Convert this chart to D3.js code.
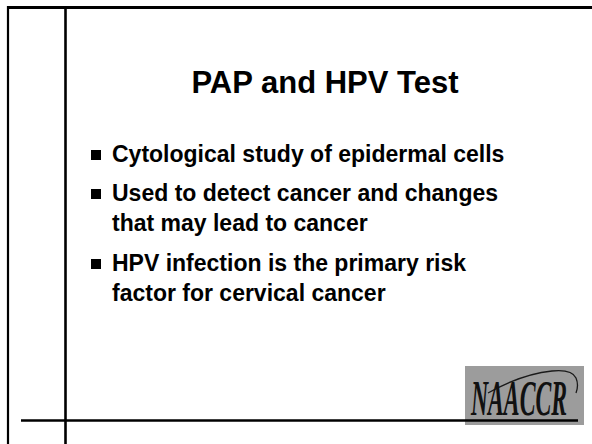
<!DOCTYPE html>
<html lang="en">
<head>
<meta charset="utf-8">
<title>PAP and HPV Test</title>
<script src="https://d3js.org/d3.v7.min.js"></script>
<style>
body { margin: 0; background: #fff; }
</style>
</head>
<body>
<script>
// slide content
const title = "PAP and HPV Test";
const bullets = [
    ["Cytological study of epidermal cells"],
    ["Used to detect cancer and changes", "that may lead to cancer"],
    ["HPV infection is the primary risk", "factor for cervical cancer"]
];
const bulletBaselines = [162, 201, 271];
const logoText = "NAACCR";

const width = 592, height = 444;
const lineGap = 30;

const svg = d3.select("body").append("svg")
    .attr("width", width)
    .attr("height", height);

// logo box goes under the frame line
const logo = svg.append("g");
logo.append("rect")
    .attr("x", 465).attr("y", 366)
    .attr("width", 119).attr("height", 59)
    .attr("fill", "#9c9c9c");
logo.append("path")
    .attr("d", "M488,393 Q522,374 552,371 Q572,369 576,378 Q579,385 576,393")
    .attr("fill", "none")
    .attr("stroke", "#1a1a1a")
    .attr("stroke-width", 1.3);
logo.append("text")
    .attr("x", 471).attr("y", 415)
    .attr("font-family", "Liberation Serif, serif")
    .attr("font-style", "italic")
    .attr("font-weight", "bold")
    .attr("font-size", 50)
    .attr("textLength", 96)
    .attr("lengthAdjust", "spacingAndGlyphs")
    .attr("fill", "#111")
    .text(logoText);

// frame lines
svg.append("line").attr("x1", 7).attr("y1", 7.5).attr("x2", width).attr("y2", 7.5)
    .attr("stroke", "#000").attr("stroke-width", 3);
svg.append("line").attr("x1", 8).attr("y1", 6).attr("x2", 8).attr("y2", height)
    .attr("stroke", "#000").attr("stroke-width", 2.2);
svg.append("line").attr("x1", 65.5).attr("y1", 6).attr("x2", 65.5).attr("y2", height)
    .attr("stroke", "#000").attr("stroke-width", 2.6);
svg.append("line").attr("x1", 21).attr("y1", 420.5).attr("x2", 578).attr("y2", 420.5)
    .attr("stroke", "#000").attr("stroke-width", 2.6);

// title
svg.append("text")
    .attr("x", 325).attr("y", 93)
    .attr("text-anchor", "middle")
    .attr("font-family", "Liberation Sans, Arial, sans-serif")
    .attr("font-weight", "bold")
    .attr("font-size", 31)
    .attr("fill", "#000")
    .text(title);

// bullets
const g = svg.append("g")
    .attr("font-family", "Liberation Sans, Arial, sans-serif")
    .attr("font-weight", "bold")
    .attr("font-size", 23)
    .attr("fill", "#000");

bullets.forEach((lines, i) => {
    const y0 = bulletBaselines[i];
    g.append("rect")
        .attr("x", 91).attr("y", y0 - 12)
        .attr("width", 10).attr("height", 10)
        .attr("fill", "#000");
    lines.forEach((t, j) => {
        g.append("text")
            .attr("x", 112).attr("y", y0 + j * lineGap)
            .text(t);
    });
});
</script>
</body>
</html>
